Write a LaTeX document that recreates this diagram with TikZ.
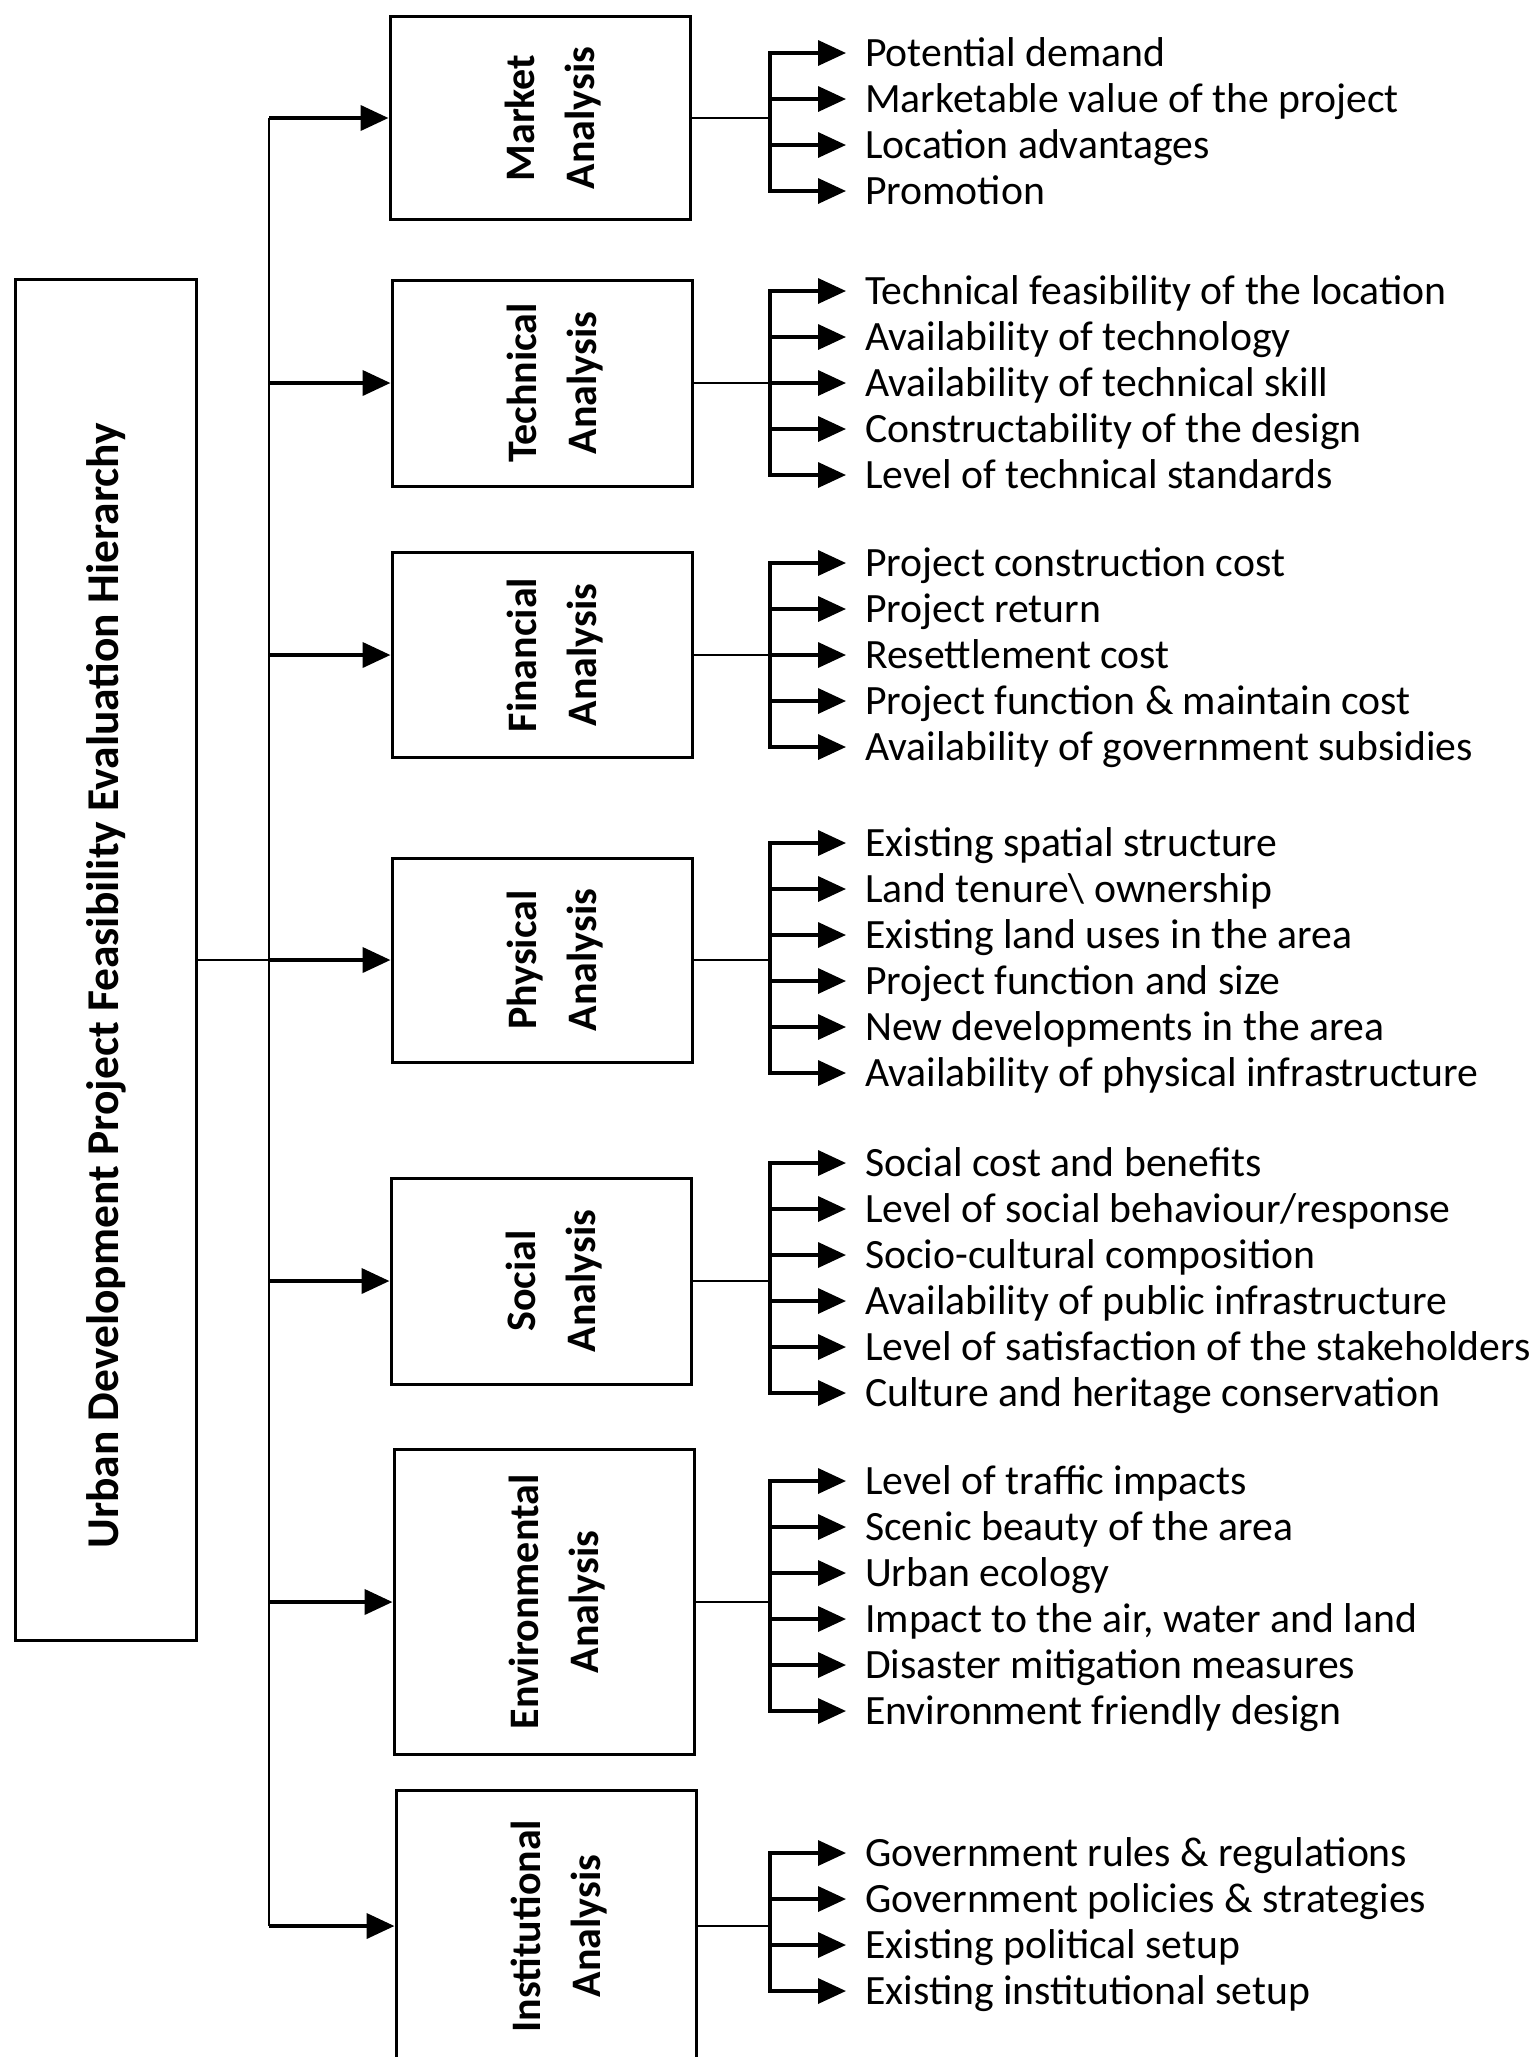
\documentclass[tikz,border=0pt]{standalone}
\usepackage{fontspec}
\setmainfont{Carlito}
\usetikzlibrary{arrows.meta}

\tikzset{
  every node/.style={inner sep=0pt},
  box/.style={draw, line width=3pt, minimum width=300pt, font=\bfseries\fontsize{42}{60}\selectfont},
  rootbox/.style={draw, line width=3pt, minimum width=181pt, minimum height=1361pt, font=\bfseries\fontsize{45.5}{50}\selectfont},
  item/.style={anchor=west, inner xsep=19pt, inner ysep=0pt, text height=26pt, text depth=0pt, font=\fontsize{41.7}{48}\selectfont},
  feed/.style={line width=4pt},
  link/.style={line width=2.2pt},
  bar/.style={line width=3.5pt, line cap=rect},
  >={Triangle[length=28pt,width=25pt]}
}
\newcommand{\boxtext}[2]{\rotatebox{90}{\begin{tabular}{@{}c@{}}\noalign{\vskip24pt}#1\\#2\end{tabular}}}

\begin{document}
\begin{tikzpicture}[x=1pt,y=-1pt]
        \useasboundingbox (0,0) rectangle (1537,2057);
        % root and analysis boxes
        \node[rootbox] (root) at (106,960) {\rotatebox{90}{Urban Development Project Feasibility Evaluation Hierarchy\hspace*{52pt}}};
        \node[box, minimum height=203pt] (market) at (540,118) {\boxtext{Market}{Analysis}};
        \node[box, minimum height=206pt] (technical) at (542,383) {\boxtext{Technical}{Analysis}};
        \node[box, minimum height=205pt] (financial) at (542,655) {\boxtext{Financial}{Analysis}};
        \node[box, minimum height=204pt] (physical) at (542,960) {\boxtext{Physical}{Analysis}};
        \node[box, minimum height=206pt] (social) at (541,1281) {\boxtext{Social}{Analysis}};
        \node[box, minimum height=305pt] (environmental) at (544,1602) {\boxtext{Environmental}{Analysis}};
        \node[box, minimum height=272pt] (institutional) at (546,1926) {\boxtext{Institutional}{Analysis}};
        \coordinate (trunk) at (269,0);
        \coordinate (brk) at (770,0);
        % trunk
        \draw[link] (market.west -| trunk) -- (institutional.west -| trunk);
        \draw[link] (root.east) -- (root.east -| trunk);
        \draw[feed,->] (physical.west -| trunk) -- (physical.west);
        \draw[feed,->] (market.west -| trunk) -- (market.west);
        \draw[feed,->] (technical.west -| trunk) -- (technical.west);
        \draw[feed,->] (financial.west -| trunk) -- (financial.west);
        \draw[feed,->] (social.west -| trunk) -- (social.west);
        \draw[feed,->] (environmental.west -| trunk) -- (environmental.west);
        \draw[feed,->] (institutional.west -| trunk) -- (institutional.west);
        % market
        \node[item] (m1) at (846,53) {Potential demand};
        \node[item] (m2) at (846,99) {Marketable value of the project};
        \node[item] (m3) at (846,145) {Location advantages};
        \node[item] (m4) at (846,191) {Promotion};
        \draw[link] (market.east) -- (market.east -| brk);
        \draw[bar] (m1.west -| brk) -- (m4.west -| brk);
        \draw[bar,->] (m1.west -| brk) -- (m1.west);
        \draw[bar,->] (m2.west -| brk) -- (m2.west);
        \draw[bar,->] (m3.west -| brk) -- (m3.west);
        \draw[bar,->] (m4.west -| brk) -- (m4.west);
        % technical
        \node[item] (t1) at (846,291) {Technical feasibility of the location};
        \node[item] (t2) at (846,337) {Availability of technology};
        \node[item] (t3) at (846,383) {Availability of technical skill};
        \node[item] (t4) at (846,429) {Constructability of the design};
        \node[item] (t5) at (846,475) {Level of technical standards};
        \draw[link] (technical.east) -- (technical.east -| brk);
        \draw[bar] (t1.west -| brk) -- (t5.west -| brk);
        \draw[bar,->] (t1.west -| brk) -- (t1.west);
        \draw[bar,->] (t2.west -| brk) -- (t2.west);
        \draw[bar,->] (t3.west -| brk) -- (t3.west);
        \draw[bar,->] (t4.west -| brk) -- (t4.west);
        \draw[bar,->] (t5.west -| brk) -- (t5.west);
        % financial
        \node[item] (f1) at (846,563) {Project construction cost};
        \node[item] (f2) at (846,609) {Project return};
        \node[item] (f3) at (846,655) {Resettlement cost};
        \node[item] (f4) at (846,701) {Project function \& maintain cost};
        \node[item] (f5) at (846,747) {Availability of government subsidies};
        \draw[link] (financial.east) -- (financial.east -| brk);
        \draw[bar] (f1.west -| brk) -- (f5.west -| brk);
        \draw[bar,->] (f1.west -| brk) -- (f1.west);
        \draw[bar,->] (f2.west -| brk) -- (f2.west);
        \draw[bar,->] (f3.west -| brk) -- (f3.west);
        \draw[bar,->] (f4.west -| brk) -- (f4.west);
        \draw[bar,->] (f5.west -| brk) -- (f5.west);
        % physical
        \node[item] (p1) at (846,843) {Existing spatial structure};
        \node[item] (p2) at (846,889) {Land tenure\textbackslash{} ownership};
        \node[item] (p3) at (846,935) {Existing land uses in the area};
        \node[item] (p4) at (846,981) {Project function and size};
        \node[item] (p5) at (846,1027) {New developments in the area};
        \node[item] (p6) at (846,1073) {Availability of physical infrastructure};
        \draw[link] (physical.east) -- (physical.east -| brk);
        \draw[bar] (p1.west -| brk) -- (p6.west -| brk);
        \draw[bar,->] (p1.west -| brk) -- (p1.west);
        \draw[bar,->] (p2.west -| brk) -- (p2.west);
        \draw[bar,->] (p3.west -| brk) -- (p3.west);
        \draw[bar,->] (p4.west -| brk) -- (p4.west);
        \draw[bar,->] (p5.west -| brk) -- (p5.west);
        \draw[bar,->] (p6.west -| brk) -- (p6.west);
        % social
        \node[item] (s1) at (846,1163) {Social cost and benefits};
        \node[item] (s2) at (846,1209) {Level of social behaviour/response};
        \node[item] (s3) at (846,1255) {Socio-cultural composition};
        \node[item] (s4) at (846,1301) {Availability of public infrastructure};
        \node[item] (s5) at (846,1347) {Level of satisfaction of the stakeholders};
        \node[item] (s6) at (846,1393) {Culture and heritage conservation};
        \draw[link] (social.east) -- (social.east -| brk);
        \draw[bar] (s1.west -| brk) -- (s6.west -| brk);
        \draw[bar,->] (s1.west -| brk) -- (s1.west);
        \draw[bar,->] (s2.west -| brk) -- (s2.west);
        \draw[bar,->] (s3.west -| brk) -- (s3.west);
        \draw[bar,->] (s4.west -| brk) -- (s4.west);
        \draw[bar,->] (s5.west -| brk) -- (s5.west);
        \draw[bar,->] (s6.west -| brk) -- (s6.west);
        % environmental
        \node[item] (e1) at (846,1481) {Level of traffic impacts};
        \node[item] (e2) at (846,1527) {Scenic beauty of the area};
        \node[item] (e3) at (846,1573) {Urban ecology};
        \node[item] (e4) at (846,1619) {Impact to the air, water and land};
        \node[item] (e5) at (846,1665) {Disaster mitigation measures};
        \node[item] (e6) at (846,1711) {Environment friendly design};
        \draw[link] (environmental.east) -- (environmental.east -| brk);
        \draw[bar] (e1.west -| brk) -- (e6.west -| brk);
        \draw[bar,->] (e1.west -| brk) -- (e1.west);
        \draw[bar,->] (e2.west -| brk) -- (e2.west);
        \draw[bar,->] (e3.west -| brk) -- (e3.west);
        \draw[bar,->] (e4.west -| brk) -- (e4.west);
        \draw[bar,->] (e5.west -| brk) -- (e5.west);
        \draw[bar,->] (e6.west -| brk) -- (e6.west);
        % institutional
        \node[item] (i1) at (846,1853) {Government rules \& regulations};
        \node[item] (i2) at (846,1899) {Government policies \& strategies};
        \node[item] (i3) at (846,1945) {Existing political setup};
        \node[item] (i4) at (846,1991) {Existing institutional setup};
        \draw[link] (institutional.east) -- (institutional.east -| brk);
        \draw[bar] (i1.west -| brk) -- (i4.west -| brk);
        \draw[bar,->] (i1.west -| brk) -- (i1.west);
        \draw[bar,->] (i2.west -| brk) -- (i2.west);
        \draw[bar,->] (i3.west -| brk) -- (i3.west);
        \draw[bar,->] (i4.west -| brk) -- (i4.west);
\end{tikzpicture}
\end{document}
